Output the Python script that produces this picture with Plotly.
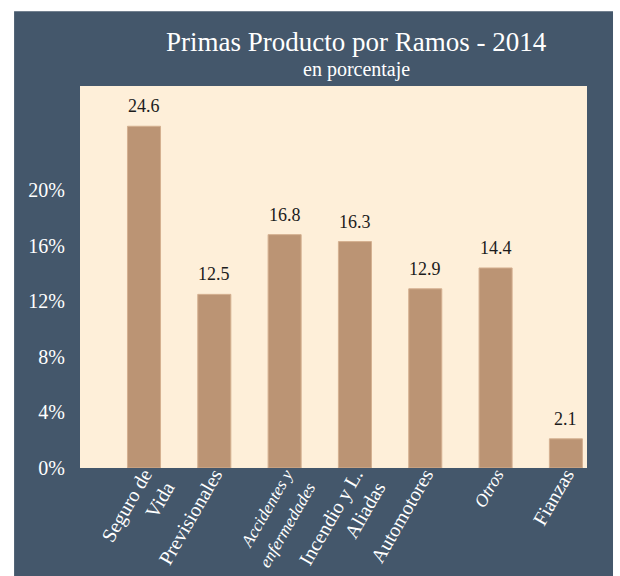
import plotly.graph_objects as go

# Datos: participación de cada ramo en las primas producto (porcentaje)
ramos = ["Seguro de Vida", "Previsionales", "Accidentes y enfermedades",
         "Incendio y L. Aliadas", "Automotores", "Otros", "Fianzas"]
valores = [24.6, 12.5, 16.8, 16.3, 12.9, 14.4, 2.1]
etiquetas_x = [
    "Seguro de<br>Vida",
    "Previsionales",
    "<i><span style='font-size:17px'>Accidentes y<br>enfermedades</span></i>",
    "Incendio y L.<br>Aliadas",
    "Automotores",
    "<i><span style='font-size:18px'>Otros</span></i>",
    "Fianzas",
]
ticks_y = [0, 4, 8, 12, 16, 20]
etiquetas_y = [f"{t}%" for t in ticks_y]

FONDO = "#44576b"
CREMA = "#feefd9"
BARRA = "#bb9474"
SERIF = "Liberation Serif"

fig = go.Figure()
fig.add_trace(go.Bar(
    x=ramos,
    y=valores,
    width=0.47,
    marker=dict(color=BARRA, line=dict(color="#d4b090", width=1)),
    hoverinfo="x+y",
))

# Valores sobre cada barra
for r, v in zip(ramos, valores):
    fig.add_annotation(
        x=r, y=v, text=f"{v:.1f}", showarrow=False,
        yanchor="middle", yshift=20,
        font=dict(family=SERIF, size=18, color="#1c1c1c"),
    )

# Título y subtítulo
fig.add_annotation(
    xref="paper", yref="paper", x=0.546, y=1.115,
    text="Primas Producto por Ramos - 2014", showarrow=False,
    xanchor="center", yanchor="middle",
    font=dict(family=SERIF, size=27, color="white"),
)
fig.add_annotation(
    xref="paper", yref="paper", x=0.546, y=1.042,
    text="en porcentaje", showarrow=False,
    xanchor="center", yanchor="middle",
    font=dict(family=SERIF, size=20, color="white"),
)

# Panel oscuro de fondo y área de trazado color crema
fig.add_shape(type="rect", xref="paper", yref="paper",
              x0=-0.130, x1=1.0513, y0=-0.30, y1=1.196,
              fillcolor=FONDO, line=dict(width=0), layer="below")
fig.add_shape(type="rect", xref="paper", yref="paper",
              x0=0, x1=1, y0=0, y1=1,
              fillcolor=CREMA, line=dict(width=0), layer="below")

fig.update_layout(
    width=620, height=576,
    margin=dict(l=80, r=33, t=86, b=108, autoexpand=False),
    paper_bgcolor="white",
    plot_bgcolor=CREMA,
    showlegend=False,
    font=dict(family=SERIF, color="white"),
    xaxis=dict(
        tickmode="array", tickvals=ramos, ticktext=etiquetas_x,
        tickangle=-60, tickfont=dict(family=SERIF, size=20, color="white"),
        ticklabelstandoff=-10,
        range=[-0.91, 6.30], showgrid=False, zeroline=False,
        showline=False, ticks="", automargin=False,
    ),
    yaxis=dict(
        tickmode="array", tickvals=ticks_y, ticktext=etiquetas_y,
        range=[0, 27.5], showgrid=False, zeroline=False, showline=False,
        ticks="outside", ticklen=10, tickcolor="rgba(0,0,0,0)",
        tickfont=dict(family=SERIF, size=20, color="white"),
        automargin=False,
    ),
)

fig.write_html("out.html")
